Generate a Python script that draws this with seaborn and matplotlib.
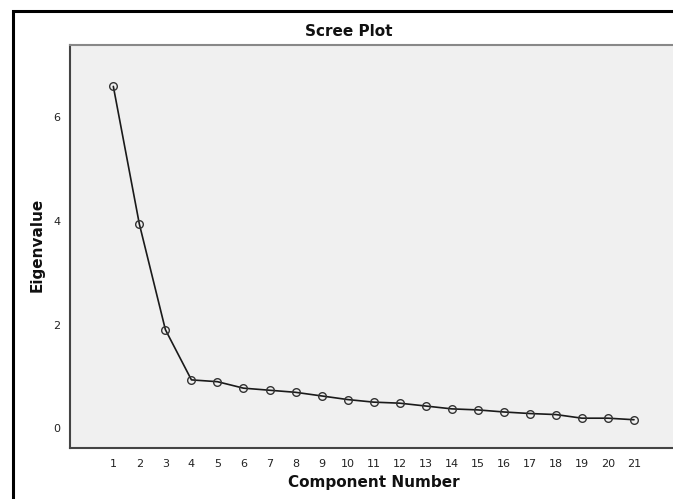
import matplotlib
matplotlib.use('Agg')
import matplotlib.pyplot as plt
import pandas as pd
import seaborn as sns
from matplotlib.patches import Rectangle

# Eigenvalues
components = list(range(1, 22))
eigenvalues = [6.60, 3.94, 1.90, 0.93, 0.895, 0.77, 0.73, 0.69, 0.62, 0.55, 0.50,
               0.48, 0.425, 0.37, 0.35, 0.31, 0.28, 0.26, 0.19, 0.19, 0.16]
y_ticks = [0, 2, 4, 6]

scree = pd.DataFrame({'Component Number': components, 'Eigenvalue': eigenvalues})

sns.set_theme(style='white')
plt.rcParams['font.family'] = ['DejaVu Sans']

fig = plt.figure(figsize=(6.73, 4.99), dpi=100)
ax = fig.add_axes([70 / 673, 1 - 448 / 499, 620 / 673, 403 / 499])
ax.set_facecolor('#f0f0f0')

sns.lineplot(data=scree, x='Component Number', y='Eigenvalue', ax=ax,
             color='#1a1a1a', linewidth=1.2, marker='o', markersize=5.5,
             markerfacecolor='none', markeredgecolor='#333333', markeredgewidth=1.0)

ax.set_xlim(-0.664, 23.15)
ax.set_ylim(-0.386, 7.40)
ax.set_xticks(components)
ax.set_yticks(y_ticks)
ax.tick_params(axis='both', direction='out', length=5, width=1, color='#333333',
               labelsize=8, labelcolor='#222222', pad=2)
ax.tick_params(axis='x', pad=3)

for side in ['left', 'bottom']:
    ax.spines[side].set_color('#444444')
    ax.spines[side].set_linewidth(1.5)
ax.spines['top'].set_color('#888888')
ax.spines['top'].set_linewidth(1.5)
ax.spines['right'].set_visible(False)

ax.set_xlabel('')
ax.set_ylabel('')
fig.text(374 / 673, 1 - 483 / 499, 'Component Number', ha='center', va='center',
         fontsize=11, fontweight='bold', color='#111111')
fig.text(37 / 673, 1 - 245 / 499, 'Eigenvalue', ha='center', va='center',
         rotation=90, fontsize=11, fontweight='bold', color='#111111')
fig.text(349 / 673, 1 - 32 / 499, 'Scree Plot', ha='center', va='center',
         fontsize=11, fontweight='bold', color='#111111')

# outer black frame (runs off the right and bottom of the picture)
fig.patches.append(Rectangle((12.5 / 673, -0.1), 1.2, 1 - 11.5 / 499 + 0.1,
                             transform=fig.transFigure, fill=False,
                             edgecolor='black', linewidth=2.2))

fig.savefig('out.png', dpi=100)
